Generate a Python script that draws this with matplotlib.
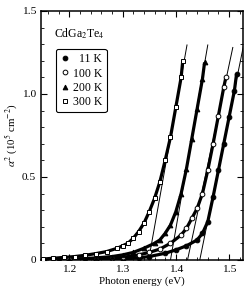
import matplotlib.pyplot as plt

plt.rcParams['font.family'] = ['Liberation Serif', 'DejaVu Serif']
plt.rcParams['mathtext.fontset'] = 'stix'

# photon energy (eV) and alpha^2 (10^5 cm^-2)
e_300 = [1.15, 1.17, 1.19, 1.21, 1.23, 1.25, 1.27, 1.29, 1.30, 1.31, 1.32, 1.33,
         1.34, 1.35, 1.36, 1.37, 1.38, 1.39, 1.40, 1.41, 1.413]
a_300 = [0.005, 0.01, 0.015, 0.02, 0.028, 0.038, 0.05, 0.07, 0.085, 0.10, 0.13, 0.17,
         0.22, 0.29, 0.37, 0.47, 0.60, 0.74, 0.92, 1.10, 1.20]

e_200 = [1.15, 1.18, 1.20, 1.23, 1.25, 1.28, 1.30, 1.32, 1.34, 1.36, 1.37, 1.38,
         1.39, 1.40, 1.41, 1.42, 1.43, 1.44, 1.45, 1.454]
a_200 = [0.002, 0.004, 0.005, 0.008, 0.012, 0.02, 0.03, 0.045, 0.07, 0.10, 0.12, 0.16,
         0.21, 0.29, 0.40, 0.55, 0.73, 0.91, 1.09, 1.19]

e_100 = [1.15, 1.20, 1.25, 1.28, 1.30, 1.33, 1.35, 1.37, 1.39, 1.41, 1.42, 1.43,
         1.44, 1.45, 1.46, 1.47, 1.48, 1.49, 1.494]
a_100 = [0.001, 0.003, 0.005, 0.01, 0.015, 0.03, 0.045, 0.065, 0.10, 0.15, 0.19, 0.25,
         0.31, 0.40, 0.54, 0.70, 0.87, 1.04, 1.10]

e_11 = [1.15, 1.20, 1.25, 1.30, 1.33, 1.35, 1.38, 1.40, 1.42, 1.44, 1.45, 1.46,
        1.47, 1.48, 1.49, 1.50, 1.51, 1.514]
a_11 = [0.0, 0.001, 0.003, 0.005, 0.012, 0.02, 0.04, 0.06, 0.085, 0.12, 0.16, 0.23,
        0.38, 0.54, 0.70, 0.86, 1.02, 1.12]

# linear fits: (x at alpha^2 = 0, x at top, y at top)
fits = [(1.349, 1.421, 1.295), (1.390, 1.460, 1.295),
        (1.422, 1.507, 1.28), (1.445, 1.528, 1.305)]

fig = plt.figure(figsize=(2.52, 2.96), dpi=100)
ax = fig.add_axes([0.163, 0.122, 0.801, 0.841])

for x0, x1, y1 in fits:
    ax.plot([x0, x1], [0, y1], color='black', lw=0.7, zorder=1)

ms = 3.4
for e, a in [(e_11, a_11), (e_100, a_100), (e_200, a_200), (e_300, a_300)]:
    ax.plot(e, a, color='black', lw=2.3, solid_capstyle='butt', zorder=2)
ax.plot(e_11, a_11, 'o', ms=ms, mfc='black', mec='black', mew=0.7, ls='none',
        label='  11 K', zorder=3)
ax.plot(e_100, a_100, 'o', ms=ms, mfc='white', mec='black', mew=0.7, ls='none',
        label='100 K', zorder=3)
ax.plot(e_200, a_200, '^', ms=ms, mfc='black', mec='black', mew=0.7, ls='none',
        label='200 K', zorder=3)
ax.plot(e_300, a_300, 's', ms=ms, mfc='white', mec='black', mew=0.7, ls='none',
        label='300 K', zorder=3)

ax.set_xlim(1.147, 1.526)
ax.set_ylim(0, 1.5)
ax.set_xticks([1.2, 1.3, 1.4, 1.5])
ax.set_xticks([1.16, 1.18, 1.22, 1.24, 1.26, 1.28, 1.32, 1.34, 1.36, 1.38,
               1.42, 1.44, 1.46, 1.48, 1.52], minor=True)
ax.set_yticks([0, 0.5, 1.0, 1.5])
ax.set_yticklabels(['0', '0.5', '1.0', '1.5'])
ax.set_yticks([0.1, 0.2, 0.3, 0.4, 0.6, 0.7, 0.8, 0.9, 1.1, 1.2, 1.3, 1.4], minor=True)
ax.tick_params(which='both', direction='in', top=True, right=True, labelsize=8.2)
ax.tick_params(which='major', length=4, width=0.8)
ax.tick_params(which='minor', length=2, width=0.6)
for s in ax.spines.values():
    s.set_linewidth(1.1)

ax.set_xlabel('Photon energy (eV)', fontsize=7.8, labelpad=2)
ax.set_ylabel(r'$\alpha^2$ (10$^5$ cm$^{-2}$)', fontsize=7.8, labelpad=1)

ax.text(0.065, 0.895, r'CdGa$_2$Te$_4$', transform=ax.transAxes, fontsize=8.5)
leg = ax.legend(loc='upper left', bbox_to_anchor=(0.074, 0.847), fontsize=8.5,
                handletextpad=0.3, handlelength=0.8, borderpad=0.35,
                labelspacing=0.2, borderaxespad=0, fancybox=True,
                framealpha=1, edgecolor='black')
leg.get_frame().set_linewidth(0.8)

fig.savefig('out.png', dpi=100)
